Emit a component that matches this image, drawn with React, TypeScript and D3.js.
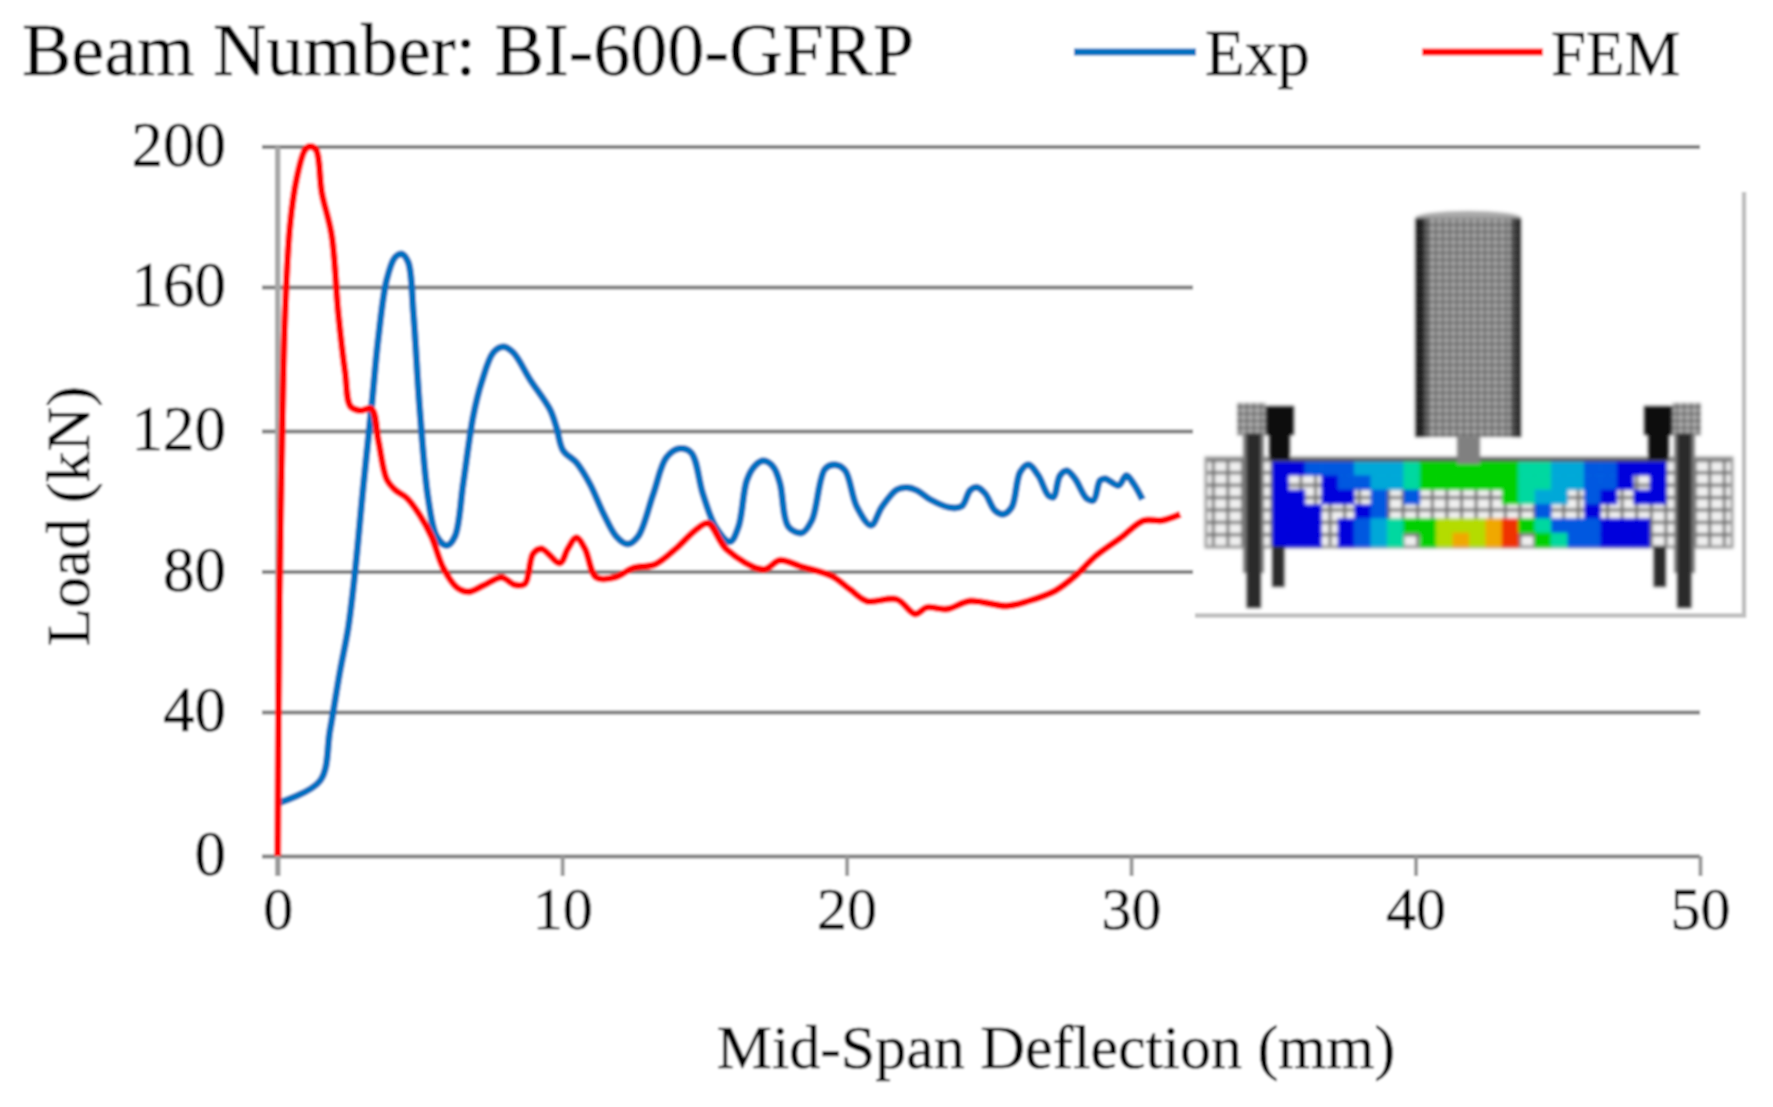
import React, { useEffect, useRef } from "react";
import * as d3 from "d3";

const xTicks = [0, 10, 20, 30, 40, 50];
const yTicks = [0, 40, 80, 120, 160, 200];

// Exp curve
const expX = [0.06, 1.49, 1.84, 2.19, 2.48, 2.72, 3.0, 3.3, 3.54, 3.83, 4.12, 4.36, 4.59, 4.77, 5.0, 5.29, 5.59, 5.94, 6.23, 6.52, 6.87, 7.17, 7.58, 7.93, 8.28, 8.87, 9.57, 9.8, 10.03, 10.5, 10.97, 11.44, 11.9, 12.3, 12.67, 13.2, 13.66, 14.13, 14.54, 14.95, 15.4, 15.9, 16.2, 16.49, 16.78, 17.08, 17.43, 17.66, 17.95, 18.42, 18.78, 19.24, 19.6, 19.95, 20.36, 20.86, 21.24, 21.76, 22.12, 22.47, 22.94, 23.64, 24.05, 24.34, 24.58, 24.87, 25.22, 25.51, 25.81, 26.1, 26.39, 26.74, 27.09, 27.27, 27.5, 27.74, 28.03, 28.44, 28.68, 28.91, 29.09, 29.56, 29.83, 30.09, 30.4];
const expY = [14.8, 20.9, 35, 51.6, 64, 80, 103.5, 126.8, 146, 162, 168.4, 169.4, 167, 152.7, 125.4, 100.8, 90, 87.4, 90, 105, 124, 133.6, 141.8, 143.4, 141.8, 134.3, 126, 121, 114.5, 111, 105, 96.7, 90, 87.8, 90, 102, 112.4, 115, 113.8, 102, 92.6, 88.5, 92.8, 105.9, 110.1, 111.5, 109.7, 105, 92.8, 91, 94.6, 109.2, 110.4, 108.7, 98.4, 93.2, 98.4, 103.3, 103.9, 103.1, 100.5, 98.2, 98.6, 103.1, 104, 102.2, 97.3, 96.3, 98.4, 108.3, 110.4, 107.3, 101.7, 101.2, 107.3, 108.7, 106.4, 100.8, 100.3, 105.9, 106.4, 104.5, 107.3, 105, 100.5];

// FEM curve
const femX = [0, 0.06, 0.14, 0.26, 0.43, 0.67, 0.96, 1.14, 1.35, 1.55, 1.9, 2.13, 2.37, 2.56, 2.89, 3.3, 3.54, 3.83, 4.12, 4.53, 5.0, 5.41, 5.82, 6.29, 6.7, 7.23, 7.87, 8.34, 8.69, 8.98, 9.27, 9.92, 10.2, 10.5, 10.8, 11.2, 11.85, 12.5, 13.26, 14.0, 14.72, 15.13, 15.79, 17.08, 17.66, 18.37, 19.48, 20.12, 20.71, 21.76, 22.41, 22.82, 23.52, 24.34, 25.63, 26.39, 27.33, 28.03, 28.74, 29.62, 30.44, 31.08, 31.73];
const femY = [0, 70.8, 111.7, 152.7, 177.3, 191, 199, 200, 199, 186.9, 174.6, 152.7, 136.3, 126.8, 125.7, 126.1, 117.2, 106.3, 103.3, 101, 96, 89.9, 81, 75.5, 74.2, 76, 78.3, 76.2, 76.5, 85.1, 86.5, 82.4, 86.5, 89.6, 86.5, 78.3, 78.3, 81, 82, 86.5, 92, 93.7, 86.2, 80.6, 83.2, 81.5, 78.7, 74.9, 71.6, 72.1, 67.9, 69.8, 69.3, 71.6, 70.2, 71.6, 74.5, 78.7, 84.3, 89.5, 94.5, 94.5, 96.3];

// contour cells of the beam in the inset, one letter per element
const beamRows = [
  "bbmmmccctggggggttccmmbbb",
  "b..bmmcctggggggttccmmb.b",
  "bb.bb.m.m.....gtcc.mb.bb",
  "bbb..bm.........m..b....",
  "bbb.bmctggyyyorgtmmmbbb.",
  "bbb.bmct.gyoyor.gtmmbbb.",
];
const contourColors: Record<string, string> = {
  b: "#0000dc",
  m: "#0058e0",
  c: "#00a8d8",
  t: "#00d8a0",
  g: "#00d000",
  y: "#b4dc00",
  o: "#f0a800",
  r: "#f03000",
};

const W = 1773;
const H = 1107;
const SERIF = "'Liberation Serif', serif";
const INK = "#000";

export default function App() {
  const svgRef = useRef<SVGSVGElement>(null);

  useEffect(() => {
    const svg = d3.select(svgRef.current);
    svg.selectAll("*").remove();

    const x = d3.scaleLinear().domain([0, 50]).range([277.7, 1700]);
    // the gridlines in the picture are not quite evenly spaced
    const y = d3.scaleLinear().domain(yTicks).range([856, 712, 571.5, 431, 287, 146.5]);

    const defs = svg.append("defs");
    const addBlur = (id: string, dev: number) =>
      defs
        .append("filter")
        .attr("id", id)
        .attr("filterUnits", "userSpaceOnUse")
        .attr("x", 0)
        .attr("y", 0)
        .attr("width", W)
        .attr("height", H)
        .append("feGaussianBlur")
        .attr("stdDeviation", dev);
    addBlur("soft", 1);
    addBlur("softer", 1.8);

    const mesh = defs
      .append("pattern")
      .attr("id", "mesh")
      .attr("patternUnits", "userSpaceOnUse")
      .attr("width", 14.6)
      .attr("height", 12.4);
    mesh.append("rect").attr("width", 14.6).attr("height", 12.4).attr("fill", "#f0f0f0");
    mesh
      .append("path")
      .attr("d", "M0 0H14.6M0 0V12.4")
      .attr("stroke", "#6e6e6e")
      .attr("stroke-width", 6)
      .attr("fill", "none");

    const fine = defs
      .append("pattern")
      .attr("id", "fine")
      .attr("patternUnits", "userSpaceOnUse")
      .attr("width", 7)
      .attr("height", 7);
    fine.append("rect").attr("width", 7).attr("height", 7).attr("fill", "#b0b0b0");
    fine
      .append("path")
      .attr("d", "M0 0H7M0 0V7")
      .attr("stroke", "#4c4c4c")
      .attr("stroke-width", 3)
      .attr("fill", "none");

    const shade = defs.append("linearGradient").attr("id", "shade");
    [
      [0, "#000", 0.9],
      [0.07, "#000", 0.7],
      [0.14, "#000", 0.05],
      [0.88, "#000", 0.05],
      [0.95, "#000", 0.6],
      [1, "#000", 0.9],
    ].forEach(([o, c, a]) => {
      shade.append("stop").attr("offset", o as number).attr("stop-color", c as string).attr("stop-opacity", a as number);
    });

    const root = svg.append("g").attr("filter", "url(#soft)");
    root.append("rect").attr("width", W).attr("height", H).attr("fill", "#fff");

    // gridlines and y tick labels
    const yAxis = root
      .append("g")
      .attr("transform", "translate(262,0)")
      .call(d3.axisLeft(y).tickValues(yTicks).tickSize(-(1700 - 262)).tickPadding(36));
    yAxis.select(".domain").remove();
    yAxis.selectAll(".tick line").attr("stroke", "#808080").attr("stroke-width", 4);
    yAxis
      .selectAll("text")
      .attr("font-family", SERIF)
      .attr("font-size", 63)
      .attr("fill", INK)
      .attr("stroke", INK)
      .attr("stroke-width", 0.5)
      .attr("dy", "0.3em");

    // vertical axis line
    root
      .append("line")
      .attr("x1", x(0))
      .attr("x2", x(0))
      .attr("y1", y(200))
      .attr("y2", 876)
      .attr("stroke", "#a8a8a8")
      .attr("stroke-width", 5.5);

    const xAxis = root
      .append("g")
      .attr("transform", "translate(0,856)")
      .call(d3.axisBottom(x).tickValues(xTicks).tickSize(20).tickSizeOuter(0).tickPadding(10));
    xAxis.select(".domain").remove();
    xAxis.selectAll(".tick line").attr("stroke", "#989898").attr("stroke-width", 4);
    xAxis
      .selectAll("text")
      .attr("font-family", SERIF)
      .attr("font-size", 60)
      .attr("fill", INK)
      .attr("stroke", INK)
      .attr("stroke-width", 0.5);

    // inset with the FE model, it sits over the gridlines
    const inset = root.append("g");
    inset.append("rect").attr("x", 1193).attr("y", 192).attr("width", 551).attr("height", 423).attr("fill", "#fff");
    inset
      .append("path")
      .attr("d", "M1195 615.5H1744V192")
      .attr("fill", "none")
      .attr("stroke", "#c0c0c0")
      .attr("stroke-width", 4.5);

    const model = inset.append("g").attr("filter", "url(#softer)");
    const beam = { x0: 1206, x1: 1732, y0: 458, y1: 547 };
    model
      .append("rect")
      .attr("x", beam.x0)
      .attr("y", beam.y0)
      .attr("width", beam.x1 - beam.x0)
      .attr("height", beam.y1 - beam.y0)
      .attr("fill", "url(#mesh)")
      .attr("stroke", "#9a9a9a")
      .attr("stroke-width", 3);

    const colBand = d3.scaleBand<number>().domain(d3.range(24)).range([1272, 1666]);
    const rowBand = d3.scaleBand<number>().domain(d3.range(beamRows.length)).range([461, 547]);
    beamRows.forEach((row, r) => {
      model
        .append("g")
        .selectAll("rect")
        .data(row.split("").map((code, c) => ({ code, c })).filter((d) => d.code !== "."))
        .join("rect")
        .attr("x", (d) => colBand(d.c)!)
        .attr("y", rowBand(r)!)
        .attr("width", colBand.bandwidth() + 0.5)
        .attr("height", rowBand.bandwidth() + 0.5)
        .attr("fill", (d) => contourColors[d.code]);
    });
    // dark edge along the top of the contour zone
    model.append("rect").attr("x", 1272).attr("y", 458).attr("width", 394).attr("height", 3.5).attr("fill", "#555");

    // impactor and its neck
    const cyl = { x0: 1415.5, x1: 1521, y0: 218, y1: 437 };
    model
      .append("ellipse")
      .attr("cx", (cyl.x0 + cyl.x1) / 2)
      .attr("cy", cyl.y0)
      .attr("rx", (cyl.x1 - cyl.x0) / 2)
      .attr("ry", 7)
      .attr("fill", "#a8a8a8");
    model.append("rect").attr("x", cyl.x0).attr("y", cyl.y0).attr("width", cyl.x1 - cyl.x0).attr("height", cyl.y1 - cyl.y0).attr("fill", "url(#fine)");
    model.append("rect").attr("x", cyl.x0).attr("y", cyl.y0).attr("width", cyl.x1 - cyl.x0).attr("height", cyl.y1 - cyl.y0).attr("fill", "url(#shade)");
    model.append("rect").attr("x", 1457).attr("y", 437).attr("width", 23).attr("height", 27).attr("fill", "#808080");

    // supports: left set, right set mirrored about the beam centre
    const sides = [
      "",
      `translate(${beam.x0 + beam.x1},0) scale(-1,1)`,
    ];
    sides.forEach((tf) => {
      const s = model.append("g").attr("transform", tf);
      s.append("rect").attr("x", 1237).attr("y", 403).attr("width", 29).attr("height", 32).attr("fill", "url(#fine)");
      s.append("rect").attr("x", 1243).attr("y", 433).attr("width", 21).attr("height", 140).attr("fill", "#7a7a7a");
      s.append("rect").attr("x", 1246.5).attr("y", 433).attr("width", 14.5).attr("height", 175).attr("fill", "#2c2c2c");
      s.append("rect").attr("x", 1265.5).attr("y", 406).attr("width", 28.5).attr("height", 29).attr("fill", "#0c0c0c");
      s.append("rect").attr("x", 1269).attr("y", 435).attr("width", 21).attr("height", 25).attr("fill", "#0c0c0c");
      s.append("rect").attr("x", 1272).attr("y", 546).attr("width", 12.5).attr("height", 41).attr("fill", "#2c2c2c");
    });

    // curves
    const line = d3
      .line<[number, number]>()
      .x((d) => x(d[0]))
      .y((d) => y(d[1]))
      .curve(d3.curveCatmullRom.alpha(0.5));
    const expPts = expX.map((v, i) => [v, expY[i]] as [number, number]);
    const femPts = femX.map((v, i) => [v, femY[i]] as [number, number]);
    root.append("path").attr("d", line(expPts)).attr("fill", "none").attr("stroke", "#0070c0").attr("stroke-width", 7).attr("stroke-linejoin", "round");
    root.append("path").attr("d", line(femPts)).attr("fill", "none").attr("stroke", "#ff0000").attr("stroke-width", 7).attr("stroke-linejoin", "round");

    // title and legend
    const addText = (t: string, px: number, py: number, size: number, anchor = "start") =>
      root
        .append("text")
        .attr("x", px)
        .attr("y", py)
        .attr("font-family", SERIF)
        .attr("font-size", size)
        .attr("fill", INK)
        .attr("stroke", INK)
        .attr("stroke-width", 0.5)
        .attr("text-anchor", anchor)
        .text(t);

    addText("Beam Number: BI-600-GFRP", 22, 75, 74);
    root.append("line").attr("x1", 1074).attr("x2", 1196).attr("y1", 52).attr("y2", 52).attr("stroke", "#0070c0").attr("stroke-width", 7);
    addText("Exp", 1205, 75, 65);
    root.append("line").attr("x1", 1422).attr("x2", 1543).attr("y1", 52).attr("y2", 52).attr("stroke", "#ff0000").attr("stroke-width", 7);
    addText("FEM", 1551, 75, 63);

    addText("Mid-Span Deflection (mm)", 1056, 1068, 62, "middle");
    addText("Load (kN)", 0, 0, 62, "middle").attr("transform", "translate(89,516) rotate(-90)");
  }, []);

  return <svg ref={svgRef} width={W} height={H} style={{ position: "absolute", left: 0, top: 0 }} />;
}
